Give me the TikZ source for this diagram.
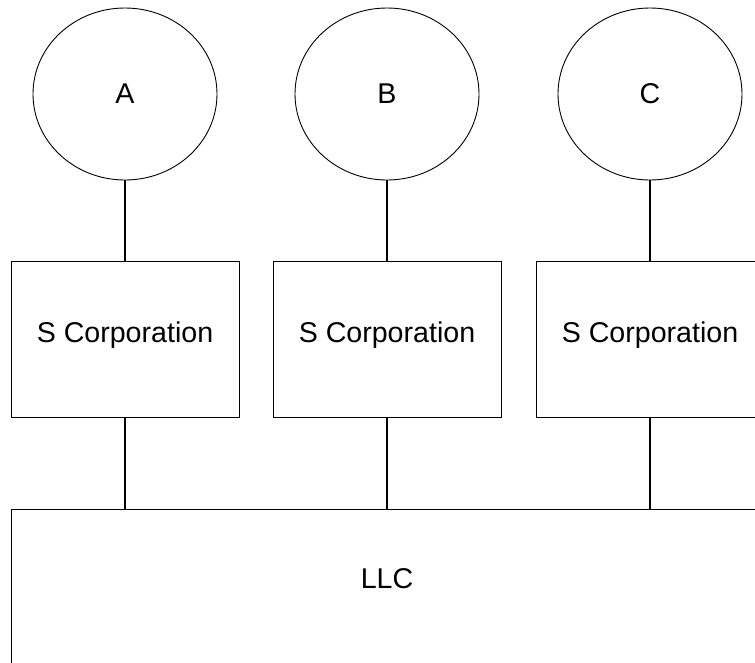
\documentclass[tikz,border=0pt]{standalone}
\usepackage{fontspec}
\setmainfont{Liberation Sans}
\usetikzlibrary{shapes.geometric}
\begin{document}
\begin{tikzpicture}[x=1pt,y=-1pt,
  every node/.style={font=\fontsize{28.6}{32}\selectfont, inner sep=0pt},
  person/.style={draw, ellipse, line width=0.9pt, minimum width=184pt, minimum height=172pt},
  corp/.style={draw, rectangle, line width=0.9pt, minimum width=228pt, minimum height=156pt, text height=20pt, text depth=14pt},
  link/.style={line width=1.1pt}]
\useasboundingbox (0,0) rectangle (755,662);
\clip (0,0) rectangle (755,662);
\node[person] (a) at (125,94) {A};
\node[person] (b) at (387,94) {B};
\node[person] (c) at (650,94) {C};
\node[corp] (sa) at (125,339) {S Corporation};
\node[corp] (sb) at (387,339) {S Corporation};
\node[corp] (sc) at (650,339) {S Corporation};
\node[draw, rectangle, line width=0.9pt, anchor=north west, minimum width=760pt, minimum height=220pt] (llc) at (11,509) {};
\node (llctext) at (387,579) {LLC};
\draw[link] (a.south) -- (sa.north);
\draw[link] (b.south) -- (sb.north);
\draw[link] (c.south) -- (sc.north);
\draw[link] (sa.south) -- (sa.south |- llc.north);
\draw[link] (sb.south) -- (sb.south |- llc.north);
\draw[link] (sc.south) -- (sc.south |- llc.north);
\end{tikzpicture}
\end{document}
